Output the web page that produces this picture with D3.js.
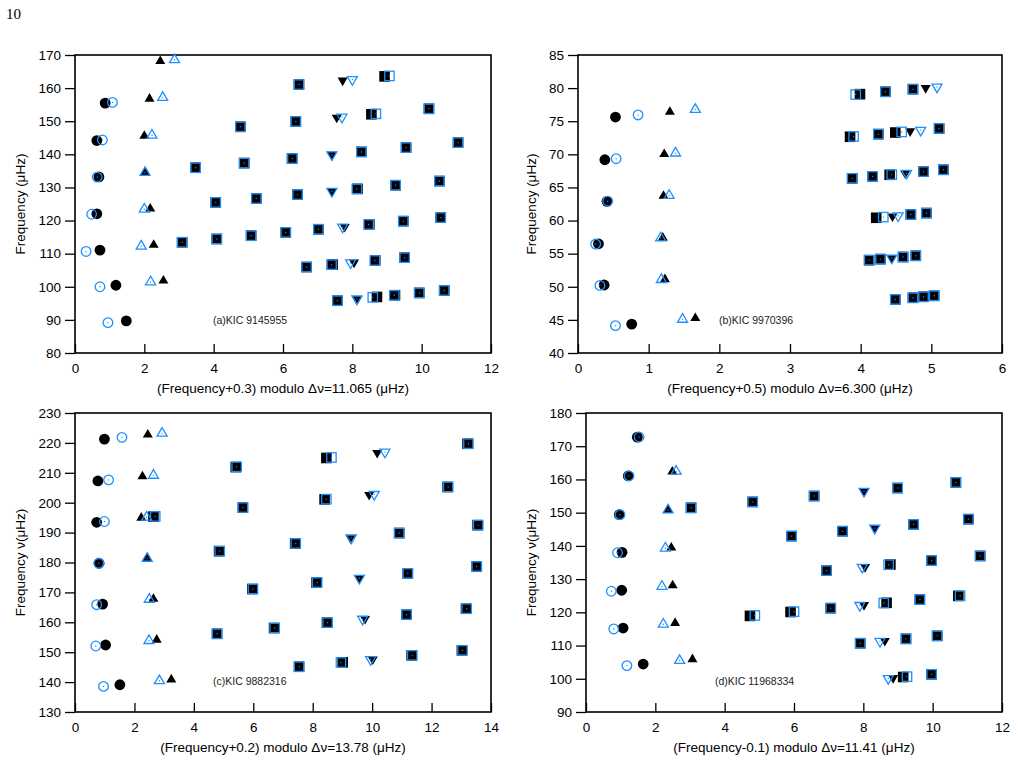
<!DOCTYPE html>
<html><head><meta charset="utf-8">
<script src="https://cdn.jsdelivr.net/npm/d3@7"></script>
<style>body{margin:0;background:#fff}svg{display:block}</style>
</head><body>
<svg id="c" width="1018" height="761"></svg>
<script>
// ---------- Panel (a) KIC 9145955 ----------
const aObsCirc=[[0.87,155.48],[0.63,144.17],[0.69,133.17],[0.63,122.04],[0.72,111.07],[1.18,100.46],[1.48,89.70]];
const aModCirc=[[1.08,155.69],[0.79,144.34],[0.64,133.12],[0.48,121.90],[0.32,110.67],[0.72,100.01],[0.95,89.17]];
const aObsTriU=[[2.46,168.14],[2.15,156.76],[2.00,145.55],[2.03,134.51],[2.17,123.59],[2.27,112.62],[2.55,101.84]];
const aModTriU=[[2.87,168.55],[2.53,157.14],[2.22,145.77],[2.02,134.50],[2.00,123.42],[1.91,112.26],[2.18,101.47]];
const aObsSq=[[6.46,161.07],[8.93,163.54],[4.77,148.32],[6.37,149.92],[8.55,152.10],[10.21,153.76],[3.48,135.96],[4.88,137.36],[6.26,138.74],[8.26,140.74],[9.55,142.03],[11.05,143.53],[4.06,125.48],[5.23,126.65],[6.42,127.84],[8.15,129.57],[9.25,130.67],[10.51,131.93],[3.09,113.44],[4.09,114.44],[5.08,115.43],[6.08,116.43],[7.02,117.37],[8.49,118.84],[9.47,119.82],[10.55,120.90],[6.68,105.97],[7.43,106.72],[8.66,107.95],[9.51,108.80],[7.57,95.79],[8.71,96.93],[9.23,97.45],[9.93,98.15],[10.65,98.87]];
const aModSq=[[6.46,161.07],[9.07,163.68],[4.77,148.32],[6.37,149.92],[8.68,152.23],[10.21,153.76],[3.48,135.96],[4.88,137.36],[6.27,138.75],[8.26,140.74],[9.55,142.03],[11.05,143.53],[4.06,125.48],[5.23,126.65],[6.42,127.84],[8.13,129.55],[9.25,130.67],[10.51,131.93],[3.09,113.44],[4.09,114.44],[5.08,115.43],[6.08,116.43],[7.02,117.37],[8.47,118.82],[9.47,119.82],[10.55,120.90],[6.68,105.97],[7.40,106.69],[8.65,107.94],[9.51,108.80],[7.57,95.79],[8.59,96.81],[9.21,97.43],[9.93,98.15],[10.65,98.87]];
const aObsTriD=[[7.72,162.33],[7.55,151.10],[7.41,139.89],[7.41,128.83],[7.78,118.13],[8.05,107.34],[8.15,96.37]];
const aModTriD=[[8.00,162.61],[7.70,151.25],[7.41,139.89],[7.41,128.83],[7.72,118.07],[7.95,107.24],[8.13,96.35]];

// ---------- Panel (b) KIC 9970396 ----------
const bObsCirc=[[0.53,75.63],[0.38,69.18],[0.41,62.90],[0.29,56.49],[0.37,50.27],[0.76,44.36]];
const bModCirc=[[0.85,75.95],[0.54,69.34],[0.42,62.92],[0.25,56.45],[0.31,50.21],[0.53,44.13]];
const bObsTriU=[[1.30,76.40],[1.22,70.02],[1.21,63.71],[1.20,57.40],[1.23,51.13],[1.66,45.26]];
const bModTriU=[[1.66,76.76],[1.38,70.18],[1.29,63.79],[1.17,57.37],[1.18,51.08],[1.48,45.08]];
const bObsSq=[[3.99,79.09],[4.35,79.45],[4.74,79.84],[3.85,72.65],[4.25,73.05],[4.49,73.29],[5.11,73.91],[3.88,66.38],[4.17,66.67],[4.41,66.91],[4.89,67.39],[5.17,67.67],[4.22,60.42],[4.71,60.91],[4.93,61.13],[4.12,54.02],[4.28,54.18],[4.60,54.50],[4.78,54.68],[4.49,48.09],[4.74,48.34],[4.89,48.49],[5.04,48.64]];
const bModSq=[[3.93,79.03],[4.35,79.45],[4.74,79.84],[3.90,72.70],[4.25,73.05],[4.58,73.38],[5.11,73.91],[3.88,66.38],[4.17,66.67],[4.44,66.94],[4.89,67.39],[5.17,67.67],[4.32,60.52],[4.71,60.91],[4.93,61.13],[4.12,54.02],[4.28,54.18],[4.60,54.50],[4.78,54.68],[4.49,48.09],[4.74,48.34],[4.89,48.49],[5.04,48.64]];
const bObsTriD=[[4.92,80.02],[4.70,73.50],[4.63,67.13],[4.45,60.65],[4.44,54.34]];
const bModTriD=[[5.08,80.18],[4.85,73.65],[4.65,67.15],[4.53,60.73],[4.44,54.34]];

// ---------- Panel (c) KIC 9882316 ----------
const cObsCirc=[[0.99,221.27],[0.77,207.27],[0.73,193.45],[0.81,179.75],[0.93,166.09],[1.03,152.41],[1.51,139.11]];
const cModCirc=[[1.58,221.86],[1.13,207.63],[0.99,193.71],[0.80,179.74],[0.73,165.89],[0.70,152.08],[0.96,138.56]];
const cObsTriU=[[2.45,222.73],[2.27,208.77],[2.23,194.95],[2.42,181.36],[2.64,167.80],[2.75,154.13],[3.24,140.84]];
const cModTriU=[[2.93,223.20],[2.64,209.14],[2.41,195.13],[2.43,181.37],[2.50,167.66],[2.49,153.87],[2.84,140.44]];
const cObsSq=[[5.41,211.91],[8.46,214.96],[13.21,219.71],[2.64,195.36],[5.65,198.37],[8.40,201.12],[12.54,205.26],[4.85,183.79],[7.41,186.35],[10.91,189.85],[13.55,192.49],[5.97,171.13],[8.13,173.29],[11.20,176.36],[13.52,178.68],[4.78,156.16],[6.70,158.08],[8.48,159.86],[11.16,162.54],[13.16,164.54],[7.54,145.14],[9.01,146.61],[11.33,148.93],[13.02,150.62]];
const cModSq=[[5.44,212.00],[8.63,215.13],[13.24,219.74],[2.70,195.42],[5.65,198.37],[8.46,201.18],[12.56,205.28],[4.87,183.81],[7.43,186.37],[10.91,189.85],[13.57,192.51],[5.99,171.15],[8.15,173.31],[11.20,176.36],[13.52,178.68],[4.78,156.16],[6.72,158.10],[8.50,159.88],[11.16,162.54],[13.18,164.56],[7.54,145.14],[8.95,146.55],[11.35,148.95],[13.04,150.64]];
const cObsTriD=[[10.17,216.67],[9.90,202.62],[9.27,188.21],[9.57,174.73],[9.76,161.14],[10.02,147.62]];
const cModTriD=[[10.43,216.93],[10.07,202.79],[9.30,188.24],[9.57,174.73],[9.68,161.06],[9.95,147.55]];

// ---------- Panel (d) KIC 11968334 ----------
const dObsCirc=[[1.48,172.73],[1.22,161.06],[0.96,149.39],[1.04,138.06],[1.03,126.64],[1.07,115.27],[1.65,104.44]];
const dModCirc=[[1.53,172.78],[1.24,161.08],[0.98,149.41],[0.91,137.93],[0.73,126.34],[0.80,115.00],[1.18,103.97]];
const dObsTriU=[[2.49,162.33],[2.36,150.79],[2.46,139.48],[2.50,128.11],[2.57,116.77],[3.07,105.86]];
const dModTriU=[[2.60,162.44],[2.37,150.80],[2.29,139.31],[2.19,127.80],[2.23,116.43],[2.70,105.49]];
const dObsSq=[[3.03,151.46],[4.81,153.24],[4.73,118.93],[6.58,155.01],[8.99,157.42],[10.67,159.10],[5.93,142.95],[7.40,144.42],[9.45,146.47],[11.03,148.05],[6.94,132.55],[8.78,134.39],[9.97,135.58],[11.37,136.98],[5.90,120.10],[7.06,121.26],[8.67,122.87],[9.63,123.83],[10.74,124.94],[7.91,110.70],[9.23,112.02],[10.13,112.92],[9.15,100.53],[9.97,101.35]];
const dModSq=[[3.03,151.46],[4.81,153.24],[4.87,119.07],[6.58,155.01],[8.99,157.42],[10.67,159.10],[5.93,142.95],[7.40,144.42],[9.45,146.47],[11.03,148.05],[6.94,132.55],[8.73,134.34],[9.97,135.58],[11.37,136.98],[6.00,120.20],[7.06,121.26],[8.59,122.79],[9.63,123.83],[10.79,124.99],[7.91,110.70],[9.23,112.02],[10.13,112.92],[9.26,100.64],[9.97,101.35]];
const dObsTriD=[[8.02,156.45],[8.33,145.35],[8.05,133.66],[8.02,122.22],[8.62,111.41],[8.86,100.24]];
const dModTriD=[[8.02,156.45],[8.33,145.35],[7.97,133.58],[7.90,122.10],[8.48,111.27],[8.72,100.10]];

// ---------- tick values & labels ----------
const aXTicks=[0,2,4,6,8,10,12], aYTicks=[80,90,100,110,120,130,140,150,160,170];
const bXTicks=[0,1,2,3,4,5,6],   bYTicks=[40,45,50,55,60,65,70,75,80,85];
const cXTicks=[0,2,4,6,8,10,12,14], cYTicks=[130,140,150,160,170,180,190,200,210,220,230];
const dXTicks=[0,2,4,6,8,10,12], dYTicks=[90,100,110,120,130,140,150,160,170,180];

const panels=[
 {box:[75,491,55,353],xd:[0,12],yd:[80,170],xt:aXTicks,yt:aYTicks,ylx:20,
  xlab:"(Frequency+0.3) modulo \u0394\u03bd=11.065 (\u03bcHz)",ylab:"Frequency (\u03bcHz)",note:"(a)KIC 9145955",noteX:213,noteY:324,
  obs:[aObsCirc,aObsTriU,aObsSq,aObsTriD],mod:[aModCirc,aModTriU,aModSq,aModTriD]},
 {box:[578,1002,55,353],xd:[0,6],yd:[40,85],xt:bXTicks,yt:bYTicks,ylx:531,
  xlab:"(Frequency+0.5) modulo \u0394\u03bd=6.300 (\u03bcHz)",ylab:"Frequency (\u03bcHz)",note:"(b)KIC 9970396",noteX:719,noteY:324,
  obs:[bObsCirc,bObsTriU,bObsSq,bObsTriD],mod:[bModCirc,bModTriU,bModSq,bModTriD]},
 {box:[75,491,413,712],xd:[0,14],yd:[130,230],xt:cXTicks,yt:cYTicks,ylx:20,
  xlab:"(Frequency+0.2) modulo \u0394\u03bd=13.78 (\u03bcHz)",ylab:"Frequency \u03bd(\u03bcHz)",note:"(c)KIC 9882316",noteX:213,noteY:685,
  obs:[cObsCirc,cObsTriU,cObsSq,cObsTriD],mod:[cModCirc,cModTriU,cModSq,cModTriD]},
 {box:[586,1002,413,712],xd:[0,12],yd:[90,180],xt:dXTicks,yt:dYTicks,ylx:531,
  xlab:"(Frequency-0.1) modulo \u0394\u03bd=11.41 (\u03bcHz)",ylab:"Frequency \u03bd(\u03bcHz)",note:"(d)KIC 11968334",noteX:715,noteY:685,
  obs:[dObsCirc,dObsTriU,dObsSq,dObsTriD],mod:[dModCirc,dModTriU,dModSq,dModTriD]}
];

const svg=d3.select("#c");
const FONT="Liberation Sans, Arial, Helvetica, sans-serif";
const BLUE="#1e8fff";

svg.append("text").attr("x",6).attr("y",19).attr("font-family","Liberation Serif, DejaVu Serif, serif")
  .attr("font-size",15).attr("fill","#000").text("10");

const triW=10, triH=8.6;
const triUp=`M0,${-2*triH/3}L${triW/2},${triH/3}L${-triW/2},${triH/3}Z`;
const triDn=`M0,${2*triH/3}L${triW/2},${-triH/3}L${-triW/2},${-triH/3}Z`;
const SQ=10.6, R=5.4;

function marker(g,kind,filled){
  if(kind===0) g.append("circle").attr("r",filled?R:R-0.6);
  else if(kind===2) g.append("rect").attr("x",filled?-SQ/2:-SQ/2+0.6).attr("y",filled?-SQ/2:-SQ/2+0.6)
      .attr("width",filled?SQ:SQ-1.2).attr("height",filled?SQ:SQ-1.2);
  else g.append("path").attr("d",kind===1?triUp:triDn);
  const s=g.selectAll("*");
  if(filled) s.attr("fill","#000");
  else { s.attr("fill","none").attr("stroke",BLUE).attr("stroke-width",1.3);
         g.append("circle").attr("r",0.7).attr("fill",BLUE); }
}

panels.forEach(p=>{
  const [L,Rt,T,B]=p.box;
  const x=d3.scaleLinear().domain(p.xd).range([L,Rt]);
  const y=d3.scaleLinear().domain(p.yd).range([B,T]);
  const g=svg.append("g");

  // left axis (outward ticks)
  const ya=g.append("g").attr("transform",`translate(${L},0)`)
    .call(d3.axisLeft(y).tickValues(p.yt).tickSize(10).tickPadding(4).tickFormat(d3.format("d")));
  ya.select(".domain").remove();
  ya.selectAll("line").attr("stroke","#000").attr("stroke-width",1.3);
  ya.selectAll("text").attr("font-family",FONT).attr("font-size",13.5).attr("fill","#000");

  // bottom axis (inward ticks)
  const xa=g.append("g").attr("transform",`translate(0,${B})`)
    .call(d3.axisBottom(x).tickValues(p.xt).tickSize(-9).tickPadding(0).tickFormat(d3.format("d")));
  xa.select(".domain").remove();
  xa.selectAll("line").attr("stroke","#000").attr("stroke-width",1.3);
  xa.selectAll("text").attr("font-family",FONT).attr("font-size",13.5).attr("fill","#000").attr("dy",null).attr("y",20);

  // frame
  g.append("rect").attr("x",L).attr("y",T).attr("width",Rt-L).attr("height",B-T)
    .attr("fill","none").attr("stroke","#000").attr("stroke-width",1.6);

  // axis titles
  g.append("text").attr("x",(L+Rt)/2).attr("y",B+40).attr("text-anchor","middle")
    .attr("font-family",FONT).attr("font-size",13.5).attr("fill","#000").text(p.xlab);
  g.append("text").attr("transform",`translate(${p.ylx+5},${(T+B)/2}) rotate(-90)`).attr("text-anchor","middle")
    .attr("font-family",FONT).attr("font-size",13.5).attr("fill","#000").text(p.ylab);

  // note
  g.append("text").attr("x",p.noteX).attr("y",p.noteY).attr("font-family",FONT)
    .attr("font-size",10.5).attr("fill","#222").text(p.note);

  // observed (black filled) then model (blue open) on top
  p.obs.forEach((arr,k)=>{
    g.selectAll(null).data(arr).enter().append("g")
      .attr("transform",d=>`translate(${x(d[0])},${y(d[1])})`)
      .each(function(){ marker(d3.select(this),k,true); });
  });
  p.mod.forEach((arr,k)=>{
    g.selectAll(null).data(arr).enter().append("g")
      .attr("transform",d=>`translate(${x(d[0])},${y(d[1])})`)
      .each(function(){ marker(d3.select(this),k,false); });
  });
});
</script>
</body></html>
